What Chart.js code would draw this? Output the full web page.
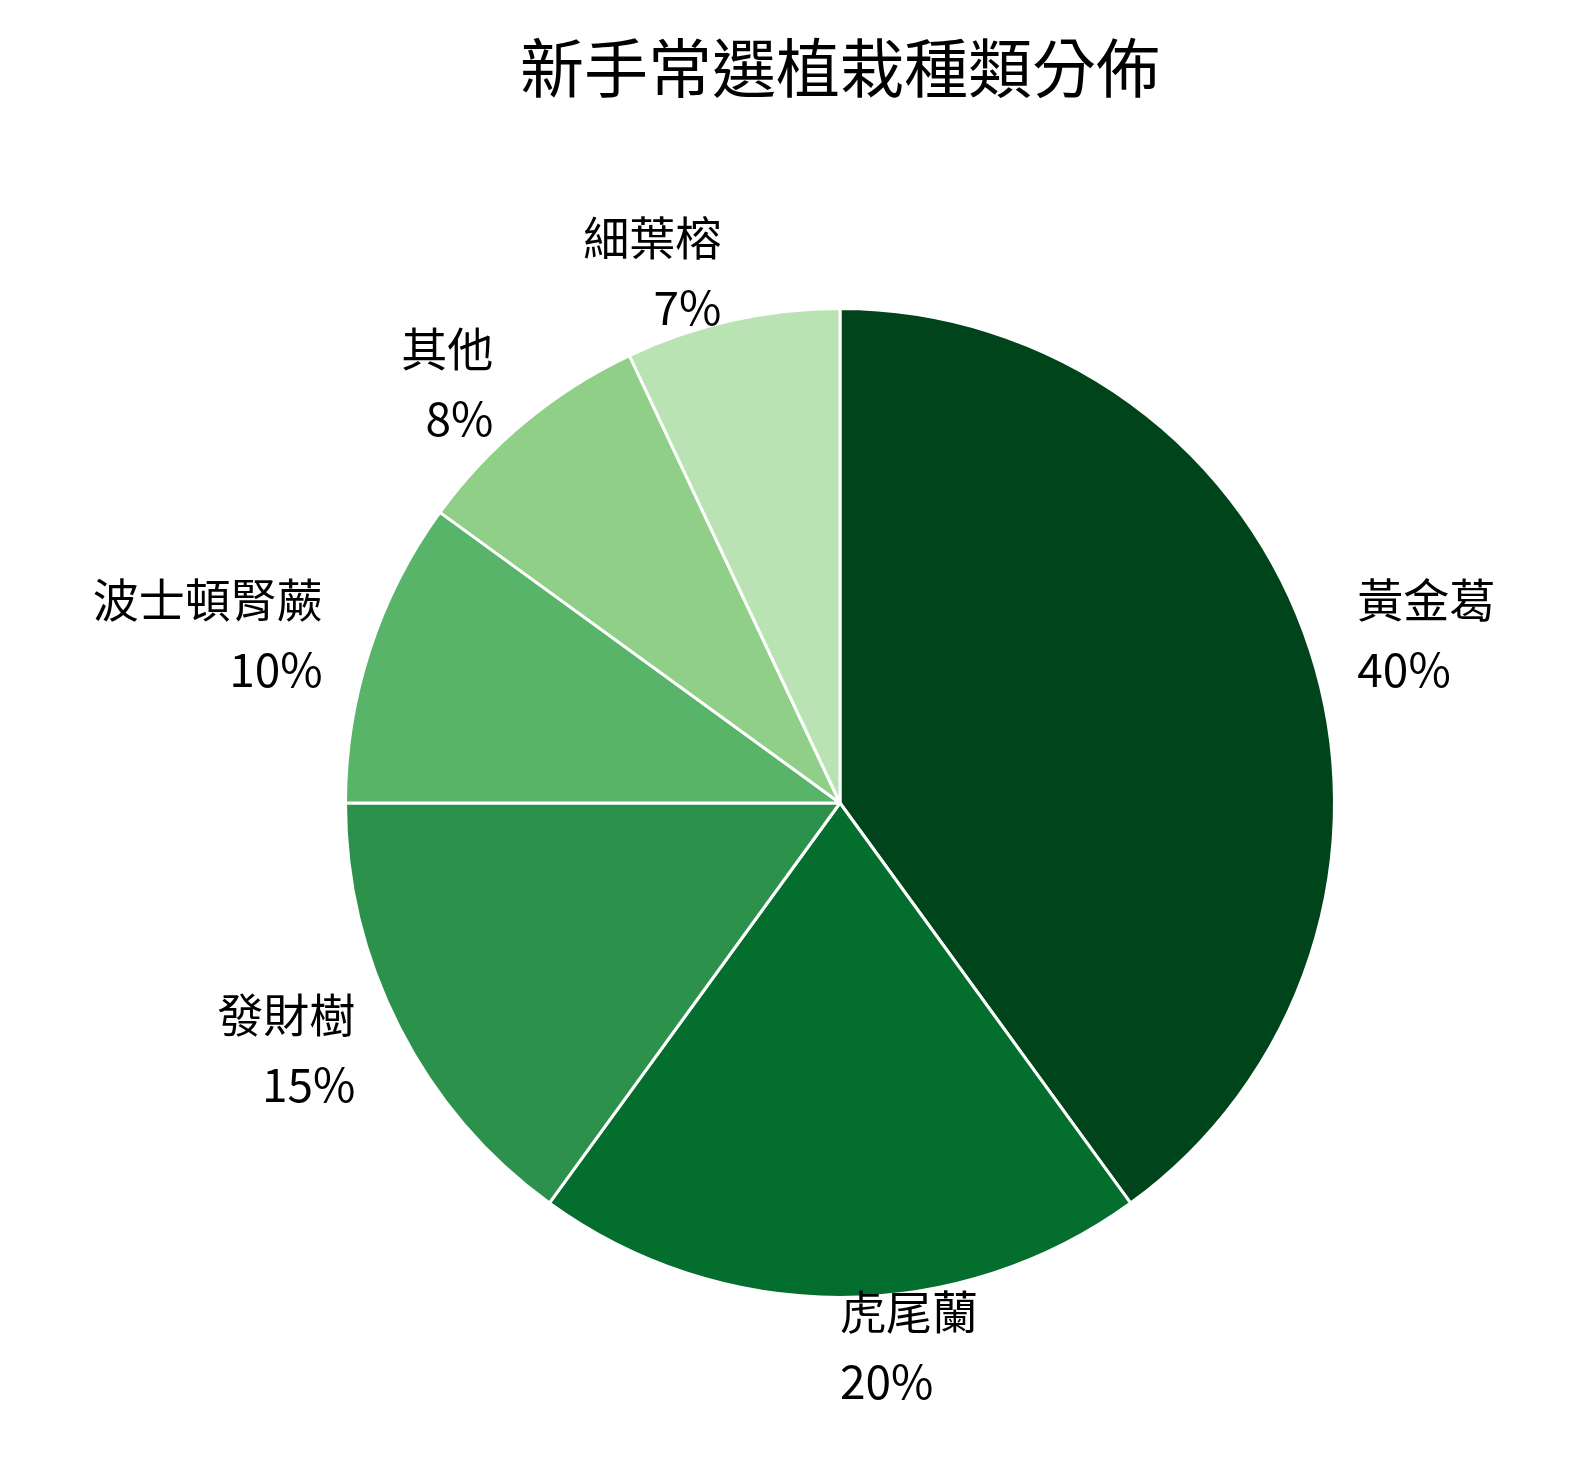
<!DOCTYPE html>
<html><head><meta charset="utf-8">
<script src="https://cdn.jsdelivr.net/npm/chart.js@4"></script>
<style>html,body{margin:0;padding:0;background:#fff}#w{position:relative;width:1579px;height:1468px}</style>
</head><body><div id="w"><canvas id="c"></canvas></div>
<script>
const categories = ["黃金葛","虎尾蘭","發財樹","波士頓腎蕨","其他","細葉榕"];
const values = [40,20,15,10,8,7];
const colors = ["#00441b","#036e2e","#2c924b","#57b469","#8fcf88","#b9e3b2"];
const FONT = '"Noto Sans CJK TC","Noto Sans",sans-serif';
const labelPlugin = {
  id:'lbl',
  afterDraw(chart){
    const ctx = chart.ctx;
    ctx.save();
    ctx.fillStyle='#000';
    ctx.font = '64px '+FONT;
    ctx.textAlign='center'; ctx.textBaseline='middle';
    ctx.fillText('新手常選植栽種類分佈', 840, 68);
    const total = values.reduce((a,b)=>a+b,0);
    chart.getDatasetMeta(0).data.forEach((arc,i)=>{
      const mid = (arc.startAngle+arc.endAngle)/2;
      const r = arc.outerRadius*1.1;
      const x = arc.x + Math.cos(mid)*r, y = arc.y + Math.sin(mid)*r;
      ctx.font='46px '+FONT;
      ctx.textAlign = x >= arc.x - 1 ? 'left' : 'right';
      ctx.textBaseline='middle';
      ctx.fillText(categories[i], x, y-35);
      ctx.fillText(Math.round(values[i]/total*100)+'%', x, y+35);
    });
    ctx.restore();
  }
};
new Chart(document.getElementById('c'),{
  type:'pie',
  data:{labels:categories,datasets:[{data:values,backgroundColor:colors,borderColor:'#fff',borderWidth:3}]},
  options:{responsive:true,maintainAspectRatio:false,animation:false,
    layout:{padding:{left:344,right:243,top:307,bottom:169}},
    plugins:{legend:{display:false},tooltip:{enabled:false}}},
  plugins:[labelPlugin]
});
</script></body></html>
